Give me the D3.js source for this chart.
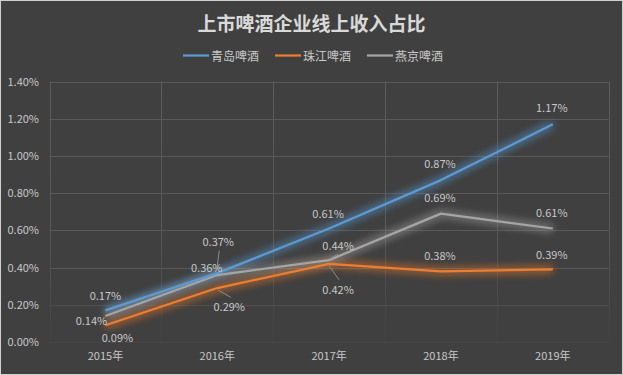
<!DOCTYPE html>
<html><head><meta charset="utf-8">
<script src="https://cdn.jsdelivr.net/npm/d3@7/dist/d3.min.js"></script>
<style>
html,body{margin:0;padding:0;background:#404040;}
svg{display:block;}
</style></head>
<body>
<script>
const years = ["2015年","2016年","2017年","2018年","2019年"];
const seriesNames = ["青岛啤酒","珠江啤酒","燕京啤酒"];
const qingdao = [0.17, 0.37, 0.61, 0.87, 1.17];
const zhujiang = [0.09, 0.29, 0.42, 0.38, 0.39];
const yanjing = [0.14, 0.36, 0.44, 0.69, 0.61];
const yTicks = [0, 0.2, 0.4, 0.6, 0.8, 1.0, 1.2, 1.4];
const colors = ["#5b9bd5", "#ed7d31", "#a5a5a5"];

(function(){
// label offsets (dx, dy from point) — styling, separate from data
const labelOffsets = [
  [[0,-15],[1,-32],[-1,-15.5],[-1,-17],[-1,-17]],
  [[12,12],[12,18],[9,25],[-1,-16],[-1,-15]],
  [[-14,4],[-10.5,-8],[9,-15],[-1,-17],[-1,-16.5]]
];
const leaders = [
  [null,[[2,-22.5],[-0.5,-3]],null,null,null],
  [null,[[1,2],[13.5,9.3]],[[0,2],[10,16]],null,null],
  [null,null,[[0,-1],[9,-6]],null,null]
];

const W = 623, H = 375;
const svg = d3.select("body").append("svg").attr("width", W).attr("height", H);
svg.append("rect").attr("x",0.5).attr("y",0.5).attr("width",W-1).attr("height",H-1)
  .attr("fill","#404040").attr("stroke","#d0d0d0");

const defs = svg.append("defs");
const glow = defs.append("filter").attr("id","glow").attr("x","-10%").attr("y","-30%").attr("width","120%").attr("height","160%");
glow.append("feGaussianBlur").attr("in","SourceGraphic").attr("stdDeviation",4).attr("result","b");
const fm = glow.append("feMerge");
fm.append("feMergeNode").attr("in","b");
fm.append("feMergeNode").attr("in","b");
const vg = defs.append("linearGradient").attr("id","vfade").attr("gradientUnits","userSpaceOnUse")
  .attr("x1",0).attr("x2",0).attr("y1",81).attr("y2",342);
vg.append("stop").attr("offset","0%").attr("stop-color","#5c5c5c");
vg.append("stop").attr("offset","55%").attr("stop-color","#595959");
vg.append("stop").attr("offset","100%").attr("stop-color","#424242");

const font = "'Noto Sans CJK SC','Noto Sans',sans-serif";
const pl = 49.5, pr = 608.7, pt = 81.5, pb = 342;
const x = d3.scaleBand().domain(years).range([pl, pr]).padding(0);
const y = d3.scaleLinear().domain([0, 1.4]).range([pb, pt]);

svg.append("g").selectAll("line").data(yTicks).join("line")
  .attr("x1", pl).attr("x2", pr)
  .attr("y1", d => Math.round(y(d))+0.5).attr("y2", d => Math.round(y(d))+0.5)
  .attr("stroke", d => d < 0.3 ? (d===0 ? "#474747" : "#4e4e4e") : "#595959").attr("stroke-width",1);
const vx = years.map(d => x(d)).concat([pr]);
svg.append("g").selectAll("line").data(vx).join("line")
  .attr("x1", d => Math.round(d)+0.5).attr("x2", d => Math.round(d)+0.5)
  .attr("y1", pt).attr("y2", pb).attr("stroke","url(#vfade)");

const yAxis = d3.axisLeft(y).tickValues(yTicks).tickFormat(d => d.toFixed(2)+"%").tickSize(0).tickPadding(0);
const ya = svg.append("g").attr("transform", `translate(39,0)`).call(yAxis);
ya.select(".domain").remove();
ya.selectAll("text").attr("fill","#c8c8c8").style("font-family",font).style("font-size","11px");

const xAxis = d3.axisBottom(x).tickSize(0).tickPadding(0);
const xa = svg.append("g").attr("transform", `translate(0,${pb+10})`).call(xAxis);
xa.select(".domain").remove();
xa.selectAll("text").attr("fill","#c8c8c8").style("font-family",font).style("font-size","11px");

const cx = d => x(d) + x.bandwidth()/2;
const allSeries = [qingdao, zhujiang, yanjing];
const line = d3.line().x((d,i) => cx(years[i])).y(d => y(d));

allSeries.forEach((s, k) => {
  svg.append("path").datum(s).attr("d", line).attr("fill","none")
    .attr("stroke", colors[k]).attr("stroke-width",5).attr("stroke-opacity",0.45)
    .attr("filter","url(#glow)").attr("stroke-linejoin","round");
});
[2,1,0].forEach(k => {
  svg.append("path").datum(allSeries[k]).attr("d", line).attr("fill","none")
    .attr("stroke", colors[k]).attr("stroke-width",2.25).attr("stroke-linejoin","round");
});

leaders.forEach((arr, k) => arr.forEach((seg, i) => {
  if (!seg) return;
  const px = cx(years[i]), py = y(allSeries[k][i]);
  svg.append("line").attr("x1", px+seg[0][0]).attr("y1", py+seg[0][1])
    .attr("x2", px+seg[1][0]).attr("y2", py+seg[1][1])
    .attr("stroke","#8c8c8c").attr("stroke-width",1);
}));

allSeries.forEach((s, k) => {
  svg.append("g").selectAll("text").data(s).join("text")
    .attr("x", (d,i) => cx(years[i]) + labelOffsets[k][i][0])
    .attr("y", (d,i) => y(d) + labelOffsets[k][i][1])
    .attr("text-anchor","middle").attr("dominant-baseline","central")
    .attr("fill","#c8c8c8").style("font-family",font).style("font-size","11px")
    .text(d => d.toFixed(2)+"%");
});

svg.append("text").attr("x", 311.5).attr("y", 22).attr("text-anchor","middle").attr("dominant-baseline","central")
  .attr("fill","#d9d9d9").style("font-family",font).style("font-size","19px").style("font-weight","bold")
  .text("上市啤酒企业线上收入占比");

const legendX = [183, 275, 367];
const lg = svg.append("g");
seriesNames.forEach((n, k) => {
  lg.append("line").attr("x1", legendX[k]).attr("x2", legendX[k]+26).attr("y1",55.5).attr("y2",55.5)
    .attr("stroke", colors[k]).attr("stroke-width",2.25);
  lg.append("text").attr("x", legendX[k]+28).attr("y",55).attr("dominant-baseline","central")
    .attr("fill","#c8c8c8").style("font-family",font).style("font-size","12px").text(n);
});
})();
</script>
</body></html>
